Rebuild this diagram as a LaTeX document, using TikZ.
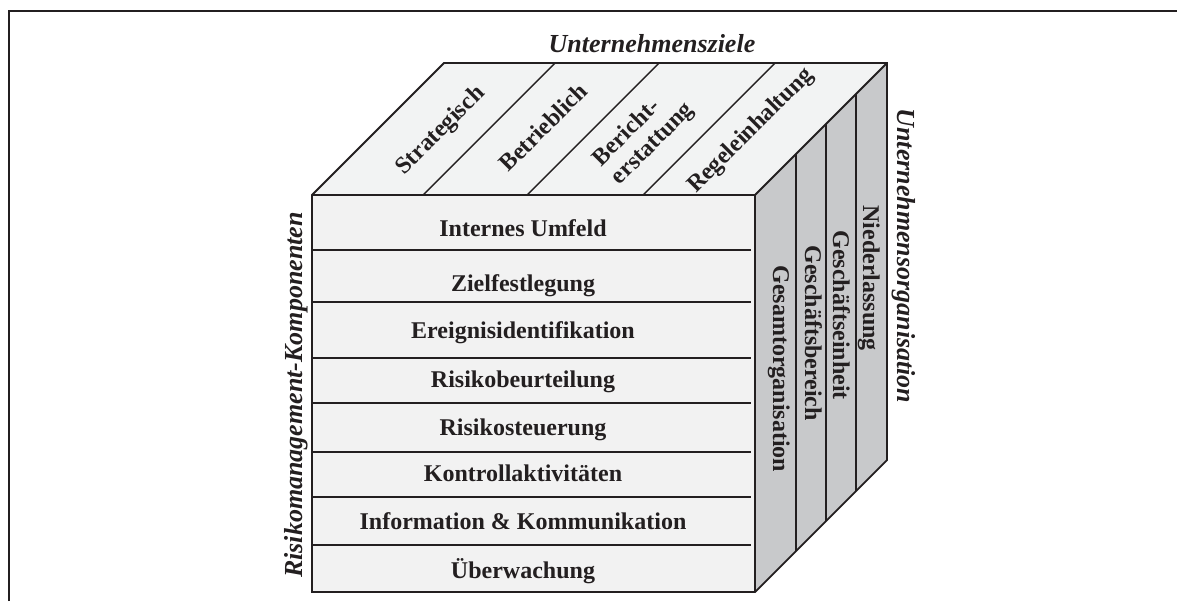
\documentclass[tikz,border=0pt]{standalone}
\usepackage{fontspec}
\setmainfont{Liberation Serif}
\usepackage{tikz}

\definecolor{ink}{RGB}{35,31,32}
\definecolor{frontgray}{RGB}{242,242,242}
\definecolor{topgray}{RGB}{242,243,243}
\definecolor{sidegray}{RGB}{200,201,203}

\tikzset{
  facefill/.style={draw=none},
  edge/.style={draw=ink,line width=0.9pt,line join=miter},
  sep/.style={draw=ink,line width=0.7pt},
  rowtxt/.style={inner sep=0pt,text=ink,anchor=base,
    font=\fontsize{12}{13}\selectfont\bfseries},
  toptxt/.style={inner sep=0pt,text=ink,rotate=45,
    font=\fontsize{12}{13}\selectfont\bfseries},
  sidetxt/.style={inner sep=0pt,text=ink,rotate=-90,anchor=base west,
    font=\fontsize{12}{13}\selectfont\bfseries},
  axistxt/.style={inner sep=0pt,text=ink,anchor=base,
    font=\fontsize{13}{14}\selectfont\bfseries\itshape}
}

\begin{document}
\begin{tikzpicture}[x=0.5pt,y=-0.5pt]
      \def\xl{312}
      \def\xr{755}
      \def\yt{195}
      \def\yb{592}
      \def\d{132}

      \useasboundingbox (0,0) rectangle (1177,601);

      \draw[ink,line width=1pt] (9,601) -- (9,11) -- (1177,11);

      \fill[frontgray] (\xl,\yt) rectangle (\xr,\yb);
      \fill[topgray] (\xl,\yt) -- (\xl+\d,\yt-\d) -- (\xr+\d,\yt-\d) -- (\xr,\yt) -- cycle;
      \fill[sidegray] (\xr,\yt) -- (\xr+\d,\yt-\d) -- (\xr+\d,\yb-\d) -- (\xr,\yb) -- cycle;

      \draw[sep] (423,\yt) -- (423+\d,\yt-\d);
      \draw[sep] (527,\yt) -- (527+\d,\yt-\d);
      \draw[sep] (643,\yt) -- (643+\d,\yt-\d);

      \draw[sep] (796,\yt-41) -- (796,\yb-41);
      \draw[sep] (826,\yt-71) -- (826,\yb-71);
      \draw[sep] (856,\yt-101) -- (856,\yb-101);

      \draw[sep] (\xl,250) -- (751,250);
      \draw[sep] (\xl,302) -- (751,302);
      \draw[sep] (\xl,358) -- (751,358);
      \draw[sep] (\xl,403) -- (751,403);
      \draw[sep] (\xl,452) -- (751,452);
      \draw[sep] (\xl,497) -- (751,497);
      \draw[sep] (\xl,545) -- (751,545);

      \draw[edge] (\xl,\yb) -- (\xl,\yt) -- (\xl+\d,\yt-\d) -- (\xr+\d,\yt-\d)
            -- (\xr+\d,\yb-\d) -- (\xr,\yb) -- cycle;
      \draw[edge] (\xl,\yt) -- (\xr,\yt) -- (\xr+\d,\yt-\d);
      \draw[edge] (\xr,\yt) -- (\xr,\yb);

      \path node (umfeld) at (523,236) [rowtxt] {Internes Umfeld};
      \path node (ziel) at (523,291) [rowtxt] {Zielfestlegung};
      \path node (ereig) at (523,338) [rowtxt] {Ereignisidentifikation};
      \path node (beurt) at (523,387) [rowtxt] {Risikobeurteilung};
      \path node (steuer) at (523,435) [rowtxt] {Risikosteuerung};
      \path node (kontr) at (523,481) [rowtxt] {Kontrollaktivitäten};
      \path node (info) at (523,529) [rowtxt] {Information \& Kommunikation};
      \path node (ueber) at (523,578) [rowtxt] {Überwachung};

      \path node (strat) at (441,131) [toptxt] {Strategisch};
      \path node (betr) at (543,127) [toptxt] {Betrieblich};
      \path node (ber) at (644,135) [toptxt,align=left] {Bericht-\\erstattung};
      \path node (regel) at (751,131) [toptxt] {Regeleinhaltung};

      \path node (gesamt) at (773,265) [sidetxt] {Gesamtorganisation};
      \path node (bereich) at (805,245) [sidetxt] {Geschäftsbereich};
      \path node (einheit) at (833,230) [sidetxt] {Geschäftseinheit};
      \path node (nieder) at (863,205) [sidetxt] {Niederlassung};

      \path node (ziele) at (652,52) [axistxt] {Unternehmensziele};
      \path node (komp) at (302,395) [axistxt,rotate=90] {Risikomanagement-Komponenten};
      \path node (org) at (897,256) [axistxt,rotate=-90] {Unternehmensorganisation};
    \end{tikzpicture}
\end{document}
